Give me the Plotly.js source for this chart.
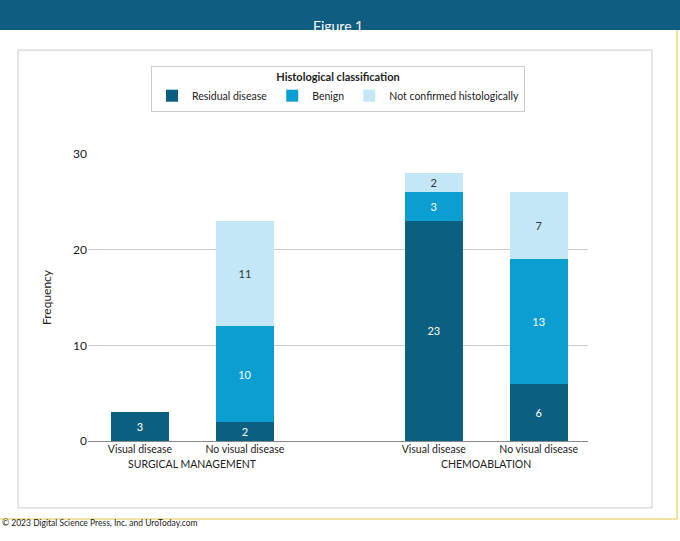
<!DOCTYPE html>
<html><head><script src="https://cdn.plot.ly/plotly-3.0.1.min.js"></script>
<style>body{margin:0}</style></head><body><div id="c" style="width:680px;height:541px"></div>
<script>
const xpos=[1,2,3.8,4.8];
const ticks=['Visual disease','No visual disease','Visual disease','No visual disease'];
const residual=[3,2,23,6];
const benign=[0,10,3,13];
const notConfirmed=[0,11,2,7];
const seriesNames=['Residual disease','Benign','Not confirmed histologically'];
const colors=['#0b5f80','#0a9fd0','#c4e7f7'];
const textCol=['#ffffff','#ffffff','#333333'];
const data=[residual,benign,notConfirmed].map((v,i)=>({type:'bar',x:xpos,y:v,name:seriesNames[i],
 marker:{color:colors[i]},width:0.55,text:v.map(d=>d?String(d):''),textposition:'inside',insidetextanchor:'middle',
 textfont:{color:textCol[i],size:11,family:'Lato'},hoverinfo:'none'}));
const layout={barmode:'stack',width:680,height:541,margin:{l:88,r:92,t:154,b:100},
 paper_bgcolor:'#fff',plot_bgcolor:'#fff',font:{family:'Lato',color:'#222'},
 xaxis:{range:[0.505,5.27],tickvals:xpos,ticktext:ticks,tickfont:{size:10.5},showgrid:false,zeroline:false,ticks:''},
 yaxis:{range:[0,30],tickvals:[0,10,20,30],tickfont:{size:12,color:'#222'},gridcolor:'#cccccc',zeroline:true,zerolinecolor:'#888',
  title:{text:'Frequency',font:{size:12},standoff:18}},
 legend:{orientation:'h',x:0.5,xanchor:'center',y:1.307,yanchor:'top',bordercolor:'#cccccc',borderwidth:1,bgcolor:'#fff',
  font:{size:10.5},title:{text:'<b>Histological classification</b>',side:'top center',font:{size:11}},traceorder:'normal',itemwidth:30},
 shapes:[
  {type:'rect',xref:'paper',yref:'paper',x0:-0.14,x1:1.128,y0:-0.233,y1:1.362,line:{color:'#cccccc',width:1},layer:'below'},
  {type:'line',xref:'paper',yref:'paper',x0:1.178,x1:1.178,y0:-0.272,y1:1.432,line:{color:'#f0e2a0',width:2}},
  {type:'line',xref:'paper',yref:'paper',x0:-0.176,x1:1.178,y0:-0.272,y1:-0.272,line:{color:'#f0e2a0',width:2}},
  {type:'rect',xref:'paper',yref:'paper',x0:-0.18,x1:1.19,y0:1.432,y1:1.54,fillcolor:'#0f5e82',line:{width:0}}
 ],
 annotations:[
  {xref:'paper',yref:'paper',x:0.5,y:1.484,text:'Figure 1',showarrow:false,font:{color:'#fff',size:14}},
  {xref:'x',yref:'paper',x:1.5,y:-0.108,text:'SURGICAL MANAGEMENT',showarrow:false,font:{size:10.5}},
  {xref:'x',yref:'paper',x:4.3,y:-0.108,text:'CHEMOABLATION',showarrow:false,font:{size:10.5}},
  {xref:'paper',yref:'paper',x:-0.176,xanchor:'left',y:-0.31,text:'© 2023 Digital Science Press, Inc. and UroToday.com',showarrow:false,font:{size:8.5}}
 ]};
Plotly.newPlot('c',data,layout,{displayModeBar:false,staticPlot:true});
</script></body></html>
